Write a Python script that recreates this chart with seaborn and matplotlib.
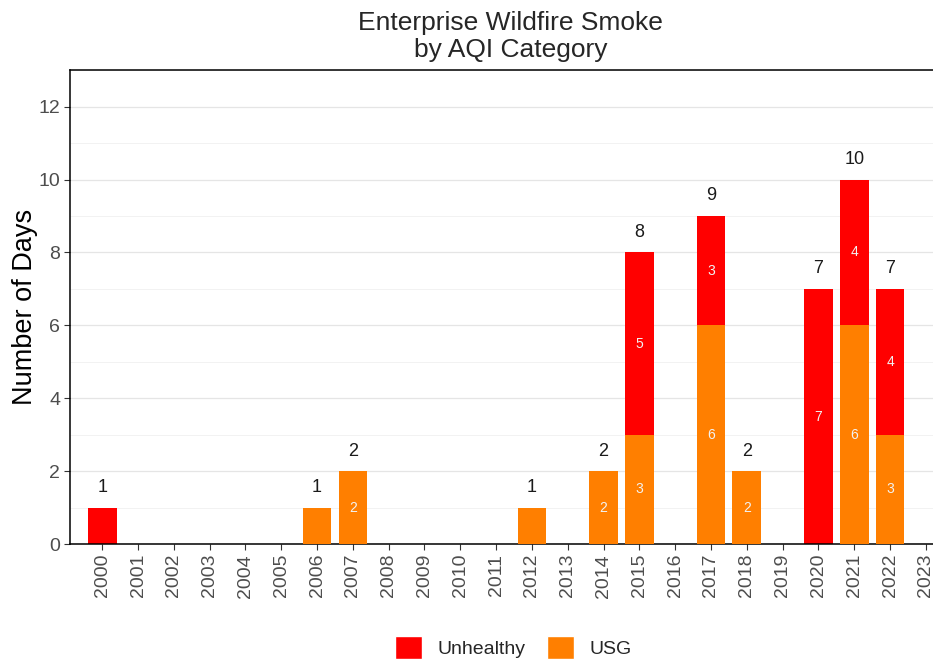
import matplotlib
matplotlib.use("Agg")
import matplotlib.pyplot as plt
import seaborn as sns
import pandas as pd
from matplotlib.patches import Patch
from matplotlib.ticker import MultipleLocator

years = [str(y) for y in range(2000, 2024)]
usg = [0, 0, 0, 0, 0, 0, 1, 2, 0, 0, 0, 0, 1, 0, 2, 3, 0, 6, 2, 0, 0, 6, 3, 0]
unhealthy = [1, 0, 0, 0, 0, 0, 0, 0, 0, 0, 0, 0, 0, 0, 0, 5, 0, 3, 0, 0, 7, 4, 4, 0]

RED = "#FF0000"
ORANGE = "#FF7F00"

df = pd.DataFrame({"Year": years, "USG": usg, "Unhealthy": unhealthy})
df["Total"] = df["USG"] + df["Unhealthy"]

sns.set_style("white")
plt.rcParams["font.family"] = ["Liberation Sans", "DejaVu Sans"]

fig = plt.figure(figsize=(9.33, 6.62), dpi=100)
ax = fig.add_axes([0.075, 0.178, 0.925, 0.716])

# stacked look: total in red, USG drawn over it from the base
sns.barplot(data=df, x="Year", y="Total", color=RED, width=0.8,
            saturation=1, linewidth=0, edgecolor="none", ax=ax, zorder=2)
sns.barplot(data=df, x="Year", y="USG", color=ORANGE, width=0.8,
            saturation=1, linewidth=0, edgecolor="none", ax=ax, zorder=3)

for i, row in df.iterrows():
    if row["Total"] > 0:
        ax.text(i, row["Total"] + 0.55, str(row["Total"]), ha="center",
                va="center", fontsize=13, color="#1a1a1a", zorder=5)
    if row["USG"] > 1:
        ax.text(i, row["USG"] / 2, str(row["USG"]), ha="center", va="center",
                fontsize=10, color="#F2F2F2", zorder=5)
    if row["Unhealthy"] > 1:
        ax.text(i, row["USG"] + row["Unhealthy"] / 2, str(row["Unhealthy"]),
                ha="center", va="center", fontsize=10, color="#F2F2F2", zorder=5)

ax.set_ylim(0, 13)
ax.set_xlim(-0.9, 23.2)
ax.yaxis.set_major_locator(MultipleLocator(2))
ax.yaxis.set_minor_locator(MultipleLocator(1))
ax.grid(axis="y", which="major", color="#E5E5E5", linewidth=0.9, zorder=0)
ax.grid(axis="y", which="minor", color="#F0F0F0", linewidth=0.6, zorder=0)
ax.set_axisbelow(True)

for s in ["left", "bottom", "top"]:
    ax.spines[s].set_color("black")
    ax.spines[s].set_linewidth(1.1)
ax.spines["right"].set_visible(False)

ax.tick_params(axis="x", rotation=90, labelsize=14, labelcolor="#4D4D4D",
               length=4, color="#333333", bottom=True, pad=3)
ax.tick_params(axis="y", labelsize=14, labelcolor="#4D4D4D", length=4,
               color="#333333", left=True, pad=3)
ax.tick_params(axis="y", which="minor", length=0)

ax.set_xlabel("")
ax.set_ylabel("Number of Days", fontsize=19.5, color="black", labelpad=0.5)
fig.text(0.547, 0.945, "Enterprise Wildfire Smoke\nby AQI Category",
         ha="center", va="center", fontsize=19, linespacing=1.2)

handles = [Patch(facecolor=RED, label="Unhealthy"),
           Patch(facecolor=ORANGE, label="USG")]
fig.legend(handles=handles, loc="center", bbox_to_anchor=(0.55, 0.022),
           ncol=2, frameon=False, fontsize=14, handlelength=1.4,
           handleheight=1.4, columnspacing=1.1, handletextpad=0.8)

fig.savefig("out.png", dpi=100)
